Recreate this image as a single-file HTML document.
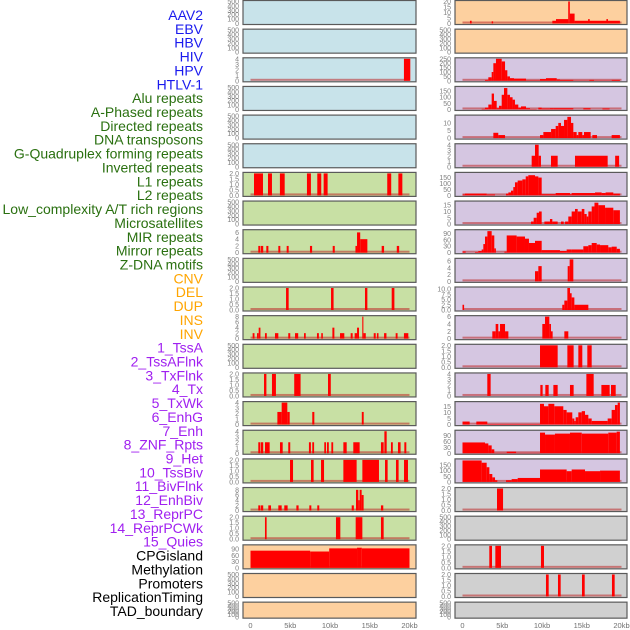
<!DOCTYPE html>
<html><head><meta charset="utf-8">
<style>
html,body{margin:0;padding:0;background:#fff;}
svg{display:block;font-family:"Liberation Sans",sans-serif;}
</style></head>
<body>
<svg id="chart" width="630" height="630" viewBox="0 0 630 630"></svg>
<script>
// ---- data ----
const trackLabels = ["AAV2","EBV","HBV","HIV","HPV","HTLV-1","Alu repeats","A-Phased repeats","Directed repeats","DNA transposons","G-Quadruplex forming repeats","Inverted repeats","L1 repeats","L2 repeats","Low_complexity A/T rich regions","Microsatellites","MIR repeats","Mirror repeats","Z-DNA motifs","CNV","DEL","DUP","INS","INV","1_TssA","2_TssAFlnk","3_TxFlnk","4_Tx","5_TxWk","6_EnhG","7_Enh","8_ZNF_Rpts","9_Het","10_TssBiv","11_BivFlnk","12_EnhBiv","13_ReprPC","14_ReprPCWk","15_Quies","CPGisland","Methylation","Promoters","ReplicationTiming","TAD_boundary"];
const labelGroups = [0,0,0,0,0,0,1,1,1,1,1,1,1,1,1,1,1,1,1,2,2,2,2,2,3,3,3,3,3,3,3,3,3,3,3,3,3,3,3,4,4,4,4,4];
const groupColors = ["#1a1aee","#2a7010","#ffa500","#a020f0","#000000"];
const xTickValues = [0,5,10,15,20];
const xTickLabels = ["0","5kb","10kb","15kb","20kb"];
const panelBg = ["b","b","b","b","b","b","g","g","g","g","g","g","g","g","g","g","g","g","g","o","o","o",
                 "o","o","p","p","p","p","p","p","p","p","p","p","p","p","p","p","p","y","y","y","y","y"];
const T500 = ["0","100","200","300","400","500"];
const T2 = ["0.0","0.5","1.0","1.5","2.0"];
const panelTicks = [T500,T500,["0","1","2","3","4"],T500,T500,T500,
  T2,T500,["0","2","4","6"],T500,T2,["0","2","4","6","8"],T500,T2,["0","1","2","3","4"],["0","1","2","3","4"],T2,["0","2","4","6","8"],T2,["0","30","60","90"],T500,T500,
  ["0","5","10","15","20"],T500,["0","50","100","150","200","250"],["0","50","100","150"],["0","5","10"],["0","1","2","3","4"],["0","50","100","150"],["0","5","10","15"],["0","30","60","90"],["0","2","4","6"],
  ["0.0","2.5","5.0","7.5","10.0"],["0","2","4","6"],T2,["0","1","2","3","4"],["0","5","10","15"],["0","30","60","90"],["0","50","100","150"],T2,T500,T2,T2,T500];
const panelYMax = [500,500,4,500,500,500, 2,500,6.5,500,2,8,500,2,4,4,2,8.5,2,105,500,500,
  20,500,250,180,14.5,4,185,17.5,102,6.5, 10.5,6,2,4,18,112,195,2,500,2,2,500];
const panelSegments = [
 [],[],[[19.3,20.1,4]],[],[],[],
 [[0.44,1.57,2],[2.2,2.7,2],[3.7,4.3,2],[7.1,7.6,2],[8.4,8.9,2],[9.2,9.7,2],[17.2,17.7,2],[18.6,19.1,2]],
 [],
 [[0.98,1.25,2],[1.32,1.6,2],[1.99,2.25,2],[3.5,3.75,2],[4.55,4.8,2],[7.48,7.75,2],[10.34,10.6,2],[13.2,13.4,2],[13.4,13.8,6],[13.8,14.7,4],[16.5,16.8,2],[18.4,18.7,2]],
 [],
 [[4.47,4.8,2],[10.13,10.45,2],[14.4,14.7,2],[17.76,18.1,2]],
 [[0.27,0.5,2],[0.82,1.03,2],[1.03,1.25,4],[1.82,2.05,2],[3.08,3.5,2],[4.75,5.0,2],[5.6,6.0,2],[6.73,6.95,2],[8.36,8.6,2],[8.9,9.1,2],[10.3,10.55,4],[11.26,11.8,2],[12.6,12.85,2],[13.1,13.4,2],[13.4,13.65,4],[14.06,14.2,8],[14.2,14.5,2],[15.5,15.75,2],[15.9,16.1,2],[16.8,17.1,2],[18.26,18.5,2],[19.3,19.85,2]],
 [],
 [[1.7,2.0,2],[2.7,3.2,2],[5.5,6.3,2],[9.75,10.1,2]],
 [[3.38,3.92,2.3],[3.92,4.63,4],[4.63,4.93,2.3],[7.77,8.03,2.3],[14.0,14.24,2.3]],
 [[0.98,1.25,2],[1.32,1.6,2],[1.82,2.41,2],[3.71,4.05,2],[4.75,5.0,2],[7.35,7.6,2],[7.77,8.0,2],[9.28,9.5,2],[9.62,9.85,2],[10.17,10.4,2],[11.68,12.1,2],[12.93,13.73,2],[16.41,16.75,2],[16.84,17.13,4],[17.67,17.9,2],[18.55,18.88,2],[19.35,19.6,2]],
 [[4.97,5.35,2],[7.61,7.94,2],[8.87,9.25,2],[11.68,13.35,2],[14.07,16.16,2],[16.92,17.25,2],[18.3,18.63,2],[19.31,19.81,2]],
 [[0.98,1.25,2],[1.32,1.6,2],[2.24,2.58,2],[3.5,3.92,2],[4.25,4.67,2],[5.77,6.05,2],[7.4,7.65,2],[8.4,8.65,2],[12.73,13.0,2],[13.27,13.56,8],[13.56,13.73,4],[13.73,13.98,8],[13.98,14.23,6],[16.41,16.7,2]],
 [[1.82,2.03,2],[10.75,11.3,2],[13.23,14.07,2],[16.41,16.75,2]],
 [[0,7.5,82],[7.5,9.9,78],[9.9,13.4,93],[13.4,14.0,96],[14.0,20,93]],
 [],[],
 // right column
 [[0.94,1.15,2.5],[3.67,3.85,2],[11.3,11.76,2.5],[11.76,13.3,4],[13.3,13.5,20],[13.5,14.1,9],[14.1,19.8,2.5],[15.8,16.0,4],[18.1,18.3,4]],
 [],
 [[2.83,3.25,10],[3.25,3.67,40],[3.67,3.88,100],[3.88,4.21,200],[4.21,4.93,250],[4.93,5.35,220],[5.35,5.64,120],[5.64,5.97,50],[5.97,6.48,30],[6.48,7.99,25],[7.99,9.75,5],[9.75,10.5,20],[10.5,11.85,30],[11.85,12.26,15],[12.26,13.94,10],[13.94,15.95,3],[15.95,16.54,10],[16.54,18.77,3],[18.77,19.8,10]],
 [[2.41,2.83,5],[2.83,3.25,15],[3.25,3.67,40],[3.67,3.96,130],[3.96,4.3,70],[4.3,4.59,10],[4.59,4.93,30],[4.93,5.22,120],[5.22,5.64,175],[5.64,5.97,120],[5.97,6.3,100],[6.3,6.6,80],[6.6,7.02,40],[7.02,7.36,15],[7.36,7.99,25],[7.99,8.49,10],[8.49,9.33,3],[9.54,9.96,15],[9.96,11.0,8],[11.0,11.4,10],[11.4,13.94,10],[15.2,16.1,10],[17.6,18.5,8]],
 [[3.88,4.5,3.5],[4.5,5.35,2],[9.75,10.17,2],[10.17,11.14,4],[11.14,11.72,6],[11.72,12.05,8],[12.05,12.39,10],[12.39,12.77,8],[12.77,13.19,12],[13.19,13.65,14],[13.65,13.94,10],[13.94,14.36,4],[14.36,14.57,2],[14.57,15.07,4],[15.07,15.28,2],[15.28,16.12,4],[16.33,16.92,2],[18.76,19.8,2]],
 [[8.7,9.12,2],[9.12,9.58,4],[9.58,9.87,2],[11.13,11.97,2],[14.15,18.26,2],[19.2,19.7,2]],
 [[0,0.31,8],[0.31,3.04,15],[3.04,4.09,8],[5.47,5.77,15],[5.77,6.1,25],[6.1,6.39,40],[6.39,6.6,70],[6.6,6.94,110],[6.94,7.53,125],[7.53,7.95,135],[7.95,8.28,160],[8.28,9.12,170],[9.12,9.54,160],[9.54,9.96,150],[9.96,11.72,10],[11.72,13.52,20],[13.52,13.73,10],[13.73,16.67,20],[16.67,17.5,25],[17.5,18.0,20],[18.0,18.97,25],[18.97,19.8,15]],
 [[8.62,8.95,2],[8.95,9.33,5],[9.33,9.62,9],[9.62,9.96,10],[10.3,11.0,2],[11.0,11.3,4],[11.3,11.97,2],[12.39,12.73,2],[12.9,13.31,2],[13.31,13.73,6],[13.73,14.15,10],[14.15,14.49,12],[14.49,15.0,10],[15.0,15.33,12],[15.33,15.62,8],[15.62,15.83,6],[15.83,16.25,10],[16.25,16.6,14],[16.6,17.09,17],[17.09,17.93,15],[17.93,18.97,13],[18.97,19.8,11]],
 [[0,0.4,6],[1.57,1.99,3],[1.99,2.41,8],[2.41,2.62,15],[2.62,2.83,40],[2.83,3.13,75],[3.13,3.67,100],[3.67,4.0,80],[4.0,4.2,20],[5.27,5.56,5],[5.56,6.81,80],[6.81,7.86,75],[7.86,8.36,65],[8.36,9.12,45],[9.12,9.96,55],[9.96,12.26,12],[12.26,13.1,8],[13.1,13.73,15],[13.73,15.2,15],[15.2,15.83,30],[15.83,16.25,35],[16.25,16.88,45],[16.88,17.3,38],[17.3,18.34,35],[18.34,18.76,25],[18.76,19.4,28],[19.4,19.8,18]],
 [[9.12,9.54,3],[9.54,9.96,4.5],[13.23,13.48,4.5],[13.48,13.94,6.5]],
 [[0,0.2,2.5],[12.55,12.81,2.5],[12.81,13.19,4.5],[13.19,13.52,10.5],[13.52,13.73,8],[13.73,14.07,6],[14.07,15.83,2.5]],
 [[3.75,4.17,2],[4.17,4.5,4],[4.5,4.72,2],[4.72,5.35,4],[5.35,5.77,2],[10.04,10.38,4],[10.38,10.92,6],[10.92,11.13,4],[11.13,11.34,2],[12.81,13.31,2]],
 [[9.75,11.97,2],[13.19,13.98,2],[14.57,15.07,2],[15.7,16.25,2]],
 [[3.12,3.54,4],[9.79,10.08,2],[10.42,10.84,2],[11.43,11.97,2],[13.52,13.98,2],[15.58,16.5,4],[17.47,18.51,2],[18.68,19.27,2]],
 [[0,0.9,2.5],[1.74,3.12,2.5],[3.12,9.75,0.5],[9.75,10.25,17],[10.25,10.8,15],[10.8,11.55,17],[11.55,12.68,15],[12.68,13.1,12],[13.1,13.81,10],[13.81,14.07,5],[14.07,14.23,3],[14.23,14.57,6],[14.57,15.0,10],[15.0,15.41,11],[15.41,15.83,8],[15.83,16.25,5],[16.25,18.26,3],[18.26,18.76,5],[18.76,19.18,12],[19.18,19.52,16],[19.52,19.8,18]],
 [[0,2.83,55],[2.83,3.25,50],[3.25,3.67,40],[3.67,4.0,20],[4.0,5.56,2],[5.56,6.74,8],[6.74,9.75,2],[9.75,10.38,105],[10.38,11.63,95],[11.63,13.52,100],[13.52,15.0,105],[15.0,18.34,100],[18.34,19.39,105],[19.39,19.8,110]],
 [[0,2.41,190],[2.41,3.04,170],[3.04,3.38,130],[3.38,3.75,70],[3.75,4.09,40],[4.09,4.38,15],[5.47,6.18,15],[6.18,6.94,25],[6.94,9.75,35],[9.75,13.1,110],[13.1,13.73,95],[13.73,15.41,110],[15.41,17.3,95],[17.3,19.8,100]],
 [[4.34,5.1,2]],
 [],
 [[3.37,3.71,2],[4.13,4.84,2],[9.87,10.25,2]],
 [[10.5,10.84,2],[12.01,12.35,2],[15.03,15.37,2],[18.8,19.14,2]],
 []
];
// ---- layout ----
const NS="http://www.w3.org/2000/svg";
const svg=document.getElementById('chart');
const bgColors={b:"#c8e3ea",g:"#c8e0a4",o:"#fdd09f",p:"#d5c6e1",y:"#d0d0d0"};
function mk(tag,attrs,parent){const e=document.createElementNS(NS,tag);for(const k in attrs)e.setAttribute(k,attrs[k]);(parent||svg).appendChild(e);return e;}
const cols=[{x0:243,w:173,dx:250.5},{x0:455,w:172,dx:462.5}];
const kbScale=7.95;
// labels
trackLabels.forEach((t,i)=>{
  const el=mk('text',{x:203,y:15+i*13.86+5,'text-anchor':'end','font-size':'14',fill:groupColors[labelGroups[i]]});
  el.textContent=t;
  
  
});
for(let p=0;p<44;p++){
  const c=cols[p<22?0:1]; const r=p%22;
  const top=r*28.65, h=(r===21)?16:24;
  const g=mk('g',{});
  
  
  const bg=mk('rect',{x:c.x0,y:top+0.5,width:c.w,height:h,fill:bgColors[panelBg[p]],stroke:"#5a5a5a",'stroke-width':1.2},g);
  
  
  const yMax=panelYMax[p];
  const yb=top+h-0.5, yt=top+1.5;
  const ys=v=>yb-(v/yMax)*(yb-yt);
  const xs=kb=>c.dx+kb*kbScale;
  const segs=panelSegments[p];
  if(segs.length){
    const bl=mk('rect',{x:xs(0),y:yb-2,width:xs(20)-xs(0),height:2,fill:"rgba(190,40,40,0.55)"},g);
    
    
  }
  segs.forEach(s=>{
    const b=mk('rect',{x:xs(s[0]),y:ys(s[2]),width:Math.max(1,xs(s[1])-xs(s[0])),height:yb-ys(s[2]),fill:"#ff0000"},g);
    
    
  });
  const ticks=panelTicks[p];
  ticks.forEach(t=>{
    const v=parseFloat(t);
    const tl=mk('text',{x:c.x0-4,y:ys(v)+2.5,'text-anchor':'end','font-size':'7',fill:"#808080"},g);
    tl.textContent=t;
    
    
  });
}
// x axes
cols.forEach((c,ci)=>{
  xTickValues.forEach((v,i)=>{
    const tl=mk('text',{x:c.dx+v*kbScale,y:628,'text-anchor':'middle','font-size':'7.5',fill:"#707070"});
    tl.textContent=xTickLabels[i];
    
    
  });
});
</script>
</body></html>
